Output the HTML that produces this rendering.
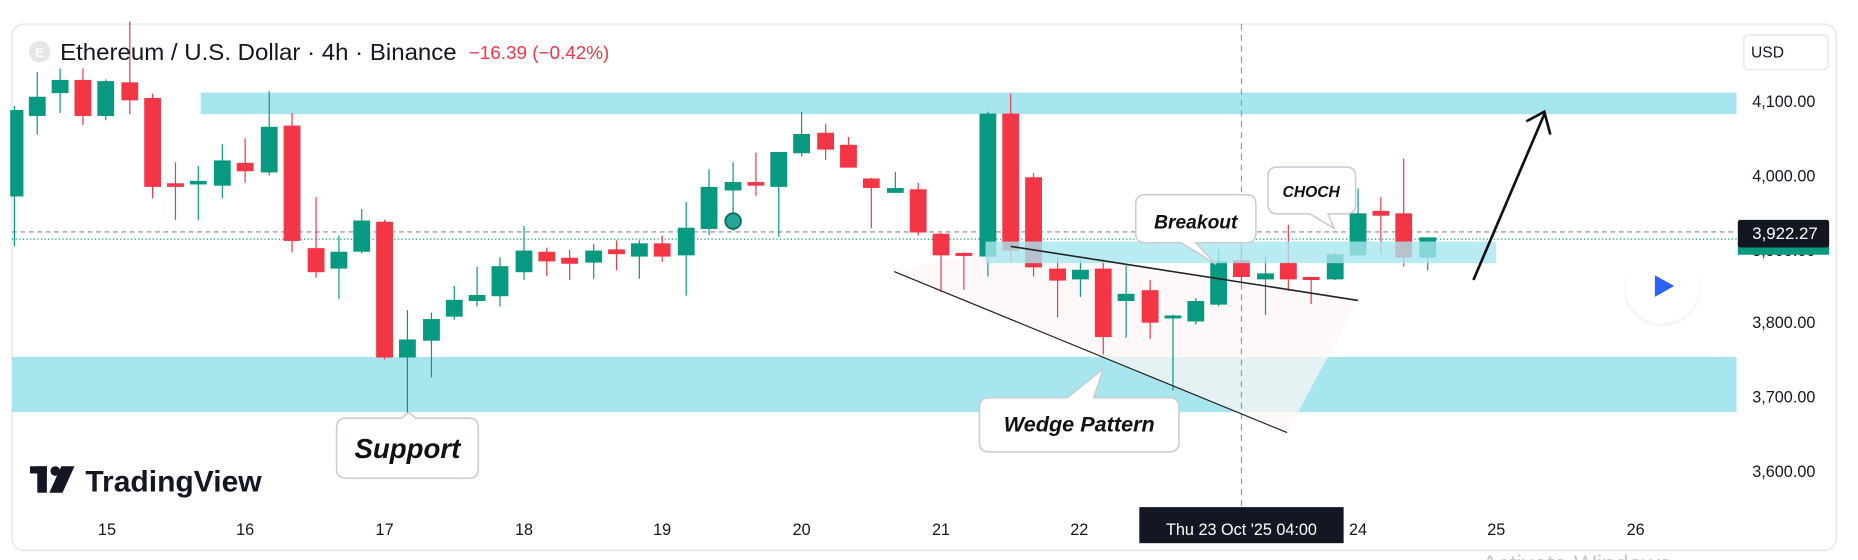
<!DOCTYPE html>
<html><head><meta charset="utf-8"><style>
html,body{margin:0;padding:0;background:#fff;}
svg{display:block;}
text{font-family:"Liberation Sans",sans-serif;}
</style></head><body>
<svg width="1858" height="560" viewBox="0 0 1546 466" preserveAspectRatio="none" xmlns="http://www.w3.org/2000/svg">
<rect x="10" y="20" width="1518" height="438" rx="10" fill="#fff" stroke="#e6e6e6" stroke-width="1.2"/>
<rect x="167" y="77" width="1278" height="18" fill="#a8e6ef"/>
<rect x="10" y="297" width="1435" height="46" fill="#a8e6ef"/>
<polygon points="744,226 841,205 1130,250 1071,360" fill="#fdf6f5" opacity="0.7"/>
<line x1="10" y1="193" x2="1445" y2="193" stroke="#888" stroke-width="1" stroke-dasharray="4,3"/>
<line x1="10" y1="199" x2="1445" y2="199" stroke="#089981" stroke-width="1" stroke-dasharray="1,2"/>
<line x1="1033" y1="20" x2="1033" y2="422" stroke="#999" stroke-width="1" stroke-dasharray="5,4"/>
<g>
<g stroke="#089981" fill="#089981">
<line x1="12" y1="88" x2="12" y2="205"/><rect x="9" y="92" width="10" height="71"/>
<line x1="31" y1="60" x2="31" y2="112"/><rect x="24.5" y="81" width="13" height="15"/>
<line x1="50" y1="57" x2="50" y2="94"/><rect x="43.5" y="67" width="13" height="10"/>
<line x1="88" y1="66" x2="88" y2="100"/><rect x="81.5" y="68" width="13" height="28"/>
<line x1="165" y1="138" x2="165" y2="183"/><rect x="158.5" y="151" width="13" height="2"/>
<line x1="185" y1="120" x2="185" y2="165"/><rect x="178.5" y="134" width="13" height="20"/>
<line x1="224" y1="76" x2="224" y2="146"/><rect x="217.5" y="106" width="13" height="37"/>
<line x1="282" y1="196" x2="282" y2="249"/><rect x="275.5" y="210" width="13" height="13"/>
<line x1="301" y1="174" x2="301" y2="211"/><rect x="294.5" y="184" width="13" height="25"/>
<line x1="339" y1="258" x2="339" y2="345"/><rect x="332.5" y="283" width="13" height="14"/>
<line x1="359" y1="260" x2="359" y2="314"/><rect x="352.5" y="266" width="13" height="17"/>
<line x1="378" y1="238" x2="378" y2="266"/><rect x="371.5" y="250" width="13" height="13"/>
<line x1="397" y1="222" x2="397" y2="255"/><rect x="390.5" y="246" width="13" height="4"/>
<line x1="416" y1="214" x2="416" y2="255"/><rect x="409.5" y="222" width="13" height="24"/>
<line x1="436" y1="188" x2="436" y2="233"/><rect x="429.5" y="209" width="13" height="17"/>
<line x1="494" y1="203" x2="494" y2="232"/><rect x="487.5" y="209" width="13" height="9"/>
<line x1="532" y1="200" x2="532" y2="232"/><rect x="525.5" y="203" width="13" height="10"/>
<line x1="571" y1="168" x2="571" y2="246"/><rect x="564.5" y="190" width="13" height="22"/>
<line x1="590" y1="141" x2="590" y2="196"/><rect x="583.5" y="156" width="13" height="34"/>
<line x1="610" y1="135" x2="610" y2="192"/><rect x="603.5" y="152" width="13" height="6"/>
<line x1="648" y1="127" x2="648" y2="197"/><rect x="641.5" y="127" width="13" height="28"/>
<line x1="667" y1="93" x2="667" y2="130"/><rect x="660.5" y="112" width="13" height="15"/>
<line x1="745" y1="143" x2="745" y2="159"/><rect x="738.5" y="157" width="13" height="3"/>
<line x1="822" y1="93" x2="822" y2="230"/><rect x="815.5" y="95" width="13" height="118"/>
<line x1="899" y1="216" x2="899" y2="247"/><rect x="892.5" y="225" width="13" height="7"/>
<line x1="937" y1="221" x2="937" y2="281"/><rect x="930.5" y="245" width="13" height="5"/>
<line x1="976" y1="262" x2="976" y2="325"/><rect x="969.5" y="263" width="13" height="1.5"/>
<line x1="995" y1="248" x2="995" y2="270"/><rect x="988.5" y="251" width="13" height="16"/>
<line x1="1014" y1="207" x2="1014" y2="255"/><rect x="1007.5" y="218" width="13" height="35"/>
<line x1="1053" y1="214" x2="1053" y2="262"/><rect x="1046.5" y="228" width="13" height="4"/>
<line x1="1111" y1="210" x2="1111" y2="233"/><rect x="1104.5" y="212" width="13" height="20"/>
<line x1="1130" y1="157" x2="1130" y2="213"/><rect x="1123.5" y="178" width="13" height="34"/>
<line x1="1188" y1="198" x2="1188" y2="225"/><rect x="1181.5" y="198" width="13" height="16"/>
</g>
<g stroke="#f23645" fill="#f23645">
<line x1="69" y1="57" x2="69" y2="104"/><rect x="62.5" y="67" width="13" height="29"/>
<line x1="108" y1="18" x2="108" y2="95"/><rect x="101.5" y="69" width="13" height="14"/>
<line x1="127" y1="78" x2="127" y2="165"/><rect x="120.5" y="82" width="13" height="73"/>
<line x1="146" y1="135" x2="146" y2="183"/><rect x="139.5" y="153" width="13" height="2"/>
<line x1="204" y1="115" x2="204" y2="152"/><rect x="197.5" y="136" width="13" height="6"/>
<line x1="243" y1="94" x2="243" y2="210"/><rect x="236.5" y="105" width="13" height="95"/>
<line x1="263" y1="164" x2="263" y2="231"/><rect x="256.5" y="207" width="13" height="19"/>
<line x1="320" y1="183" x2="320" y2="299"/><rect x="313.5" y="185" width="13" height="112"/>
<line x1="455" y1="206" x2="455" y2="230"/><rect x="448.5" y="210" width="13" height="7"/>
<line x1="474" y1="208" x2="474" y2="233"/><rect x="467.5" y="215" width="13" height="4"/>
<line x1="513" y1="200" x2="513" y2="225"/><rect x="506.5" y="208" width="13" height="3"/>
<line x1="551" y1="196" x2="551" y2="218"/><rect x="544.5" y="203" width="13" height="10"/>
<line x1="629" y1="127" x2="629" y2="163"/><rect x="622.5" y="152" width="13" height="2"/>
<line x1="687" y1="103" x2="687" y2="133"/><rect x="680.5" y="111" width="13" height="13"/>
<line x1="706" y1="114" x2="706" y2="139"/><rect x="699.5" y="121" width="13" height="18"/>
<line x1="725" y1="148" x2="725" y2="190"/><rect x="718.5" y="149" width="13" height="7"/>
<line x1="764" y1="152" x2="764" y2="196"/><rect x="757.5" y="158" width="13" height="35"/>
<line x1="783" y1="194" x2="783" y2="243"/><rect x="776.5" y="195" width="13" height="17"/>
<line x1="802" y1="210" x2="802" y2="241"/><rect x="795.5" y="211" width="13" height="1.5"/>
<line x1="841" y1="78" x2="841" y2="218"/><rect x="834.5" y="95" width="13" height="113"/>
<line x1="860" y1="144" x2="860" y2="230"/><rect x="853.5" y="148" width="13" height="74"/>
<line x1="880" y1="214" x2="880" y2="264"/><rect x="873.5" y="224" width="13" height="9"/>
<line x1="918" y1="215" x2="918" y2="295"/><rect x="911.5" y="224" width="13" height="56"/>
<line x1="957" y1="233" x2="957" y2="282"/><rect x="950.5" y="242" width="13" height="26"/>
<line x1="1033" y1="204" x2="1033" y2="236"/><rect x="1026.5" y="217" width="13" height="13"/>
<line x1="1072" y1="187" x2="1072" y2="242"/><rect x="1065.5" y="219" width="13" height="13"/>
<line x1="1091" y1="231" x2="1091" y2="253"/><rect x="1084.5" y="231" width="13" height="1.5"/>
<line x1="1149" y1="164" x2="1149" y2="211"/><rect x="1142.5" y="176" width="13" height="3"/>
<line x1="1168" y1="132" x2="1168" y2="222"/><rect x="1161.5" y="178" width="13" height="36"/>
</g>
</g>
<circle cx="610" cy="184" r="6.5" fill="#26a69a" stroke="#0c6b5c" stroke-width="1.5"/>
<rect x="820" y="201" width="425" height="18" fill="#a8e6ef" opacity="0.8"/>
<line x1="744" y1="226" x2="1071" y2="360" stroke="#222" stroke-width="1"/>
<line x1="841" y1="205" x2="1130" y2="250" stroke="#222" stroke-width="1.3"/>
<line x1="1226" y1="233" x2="1285" y2="95" stroke="#111" stroke-width="2.2"/>
<polyline points="1270,101 1285,93 1290,112" fill="none" stroke="#111" stroke-width="2.2"/>
<g fill="#fff" stroke="#c8cdd3" stroke-width="1.3">
<path d="M953,162 H1037 Q1045,162 1045,170 V194 Q1045,202 1037,202 H995 L1012,220 L983,202 H953 Q945,202 945,194 V170 Q945,162 953,162 Z"/>
<path d="M1063,139 H1120 Q1128,139 1128,147 V170 Q1128,178 1120,178 H1105 L1110,190 L1090,178 H1063 Q1055,178 1055,170 V147 Q1055,139 1063,139 Z"/>
<path d="M823,331 H888 L918,307 L910,331 H973 Q981,331 981,339 V368 Q981,376 973,376 H823 Q815,376 815,368 V339 Q815,331 823,331 Z"/>
<path d="M288,348 H334 L340,343 L346,348 H390 Q398,348 398,356 V390 Q398,398 390,398 H288 Q280,398 280,390 V356 Q280,348 288,348 Z"/>
</g>
<g font-style="italic" font-weight="bold" fill="#111">
<text x="995" y="190" font-size="16" text-anchor="middle">Breakout</text>
<text x="1091" y="164" font-size="13" text-anchor="middle">CHOCH</text>
<text x="898" y="359" font-size="18" text-anchor="middle">Wedge Pattern</text>
<text x="339" y="381" font-size="23" text-anchor="middle">Support</text>
</g>
<circle cx="33" cy="43" r="9" fill="#e6e6e6"/>
<text x="33" y="47.5" font-size="11" fill="#fff" font-weight="bold" text-anchor="middle">E</text>
<text x="50" y="50" font-size="19.5" fill="#131722" textLength="330" lengthAdjust="spacingAndGlyphs">Ethereum / U.S. Dollar · 4h · Binance</text>
<text x="390" y="49" font-size="15.5" fill="#f23645" textLength="117" lengthAdjust="spacingAndGlyphs">−16.39 (−0.42%)</text>
<rect x="1451" y="29" width="70" height="29" rx="4" fill="#fff" stroke="#e0e3eb"/>
<text x="1457" y="48" font-size="13" fill="#131722">USD</text>
<g font-size="13.5" fill="#131722">
<text x="1458" y="89">4,100.00</text>
<text x="1458" y="151">4,000.00</text>
<text x="1458" y="273">3,800.00</text>
<text x="1458" y="335">3,700.00</text>
<text x="1458" y="397">3,600.00</text>
<text x="1458" y="213">3,900.00</text>
</g>
<rect x="1446" y="205" width="76" height="7" fill="#089981"/>
<rect x="1446" y="183" width="76" height="23" rx="2" fill="#131722"/>
<text x="1458" y="199" font-size="14" fill="#fff">3,922.27</text>
<circle cx="1383" cy="240" r="32" fill="#f0f0f0" opacity="0.6"/>
<circle cx="1383" cy="238" r="31" fill="#fff"/>
<polygon points="1377,229 1393,238 1377,247" fill="#2962ff"/>
<g font-size="13.5" fill="#131722" text-anchor="middle">
<text x="89" y="445">15</text><text x="204" y="445">16</text><text x="320" y="445">17</text>
<text x="436" y="445">18</text><text x="551" y="445">19</text><text x="667" y="445">20</text>
<text x="783" y="445">21</text><text x="898" y="445">22</text><text x="1130" y="445">24</text>
<text x="1245" y="445">25</text><text x="1361" y="445">26</text>
</g>
<rect x="948" y="422" width="170" height="30" fill="#131722"/>
<text x="1033" y="445" font-size="13.5" fill="#fff" text-anchor="middle">Thu 23 Oct '25   04:00</text>
<g fill="#131722">
<rect x="25" y="388" width="14" height="6"/><rect x="31" y="388" width="8" height="22"/>
<circle cx="46" cy="392" r="4"/>
<polygon points="51,388 62,388 52,410 41,410"/>
<text x="71" y="409" font-size="25" font-weight="bold">TradingView</text>
</g>
<text x="1233" y="476" font-size="20" fill="#c8c8c8">Activate Windows</text>
</svg>
</body></html>
